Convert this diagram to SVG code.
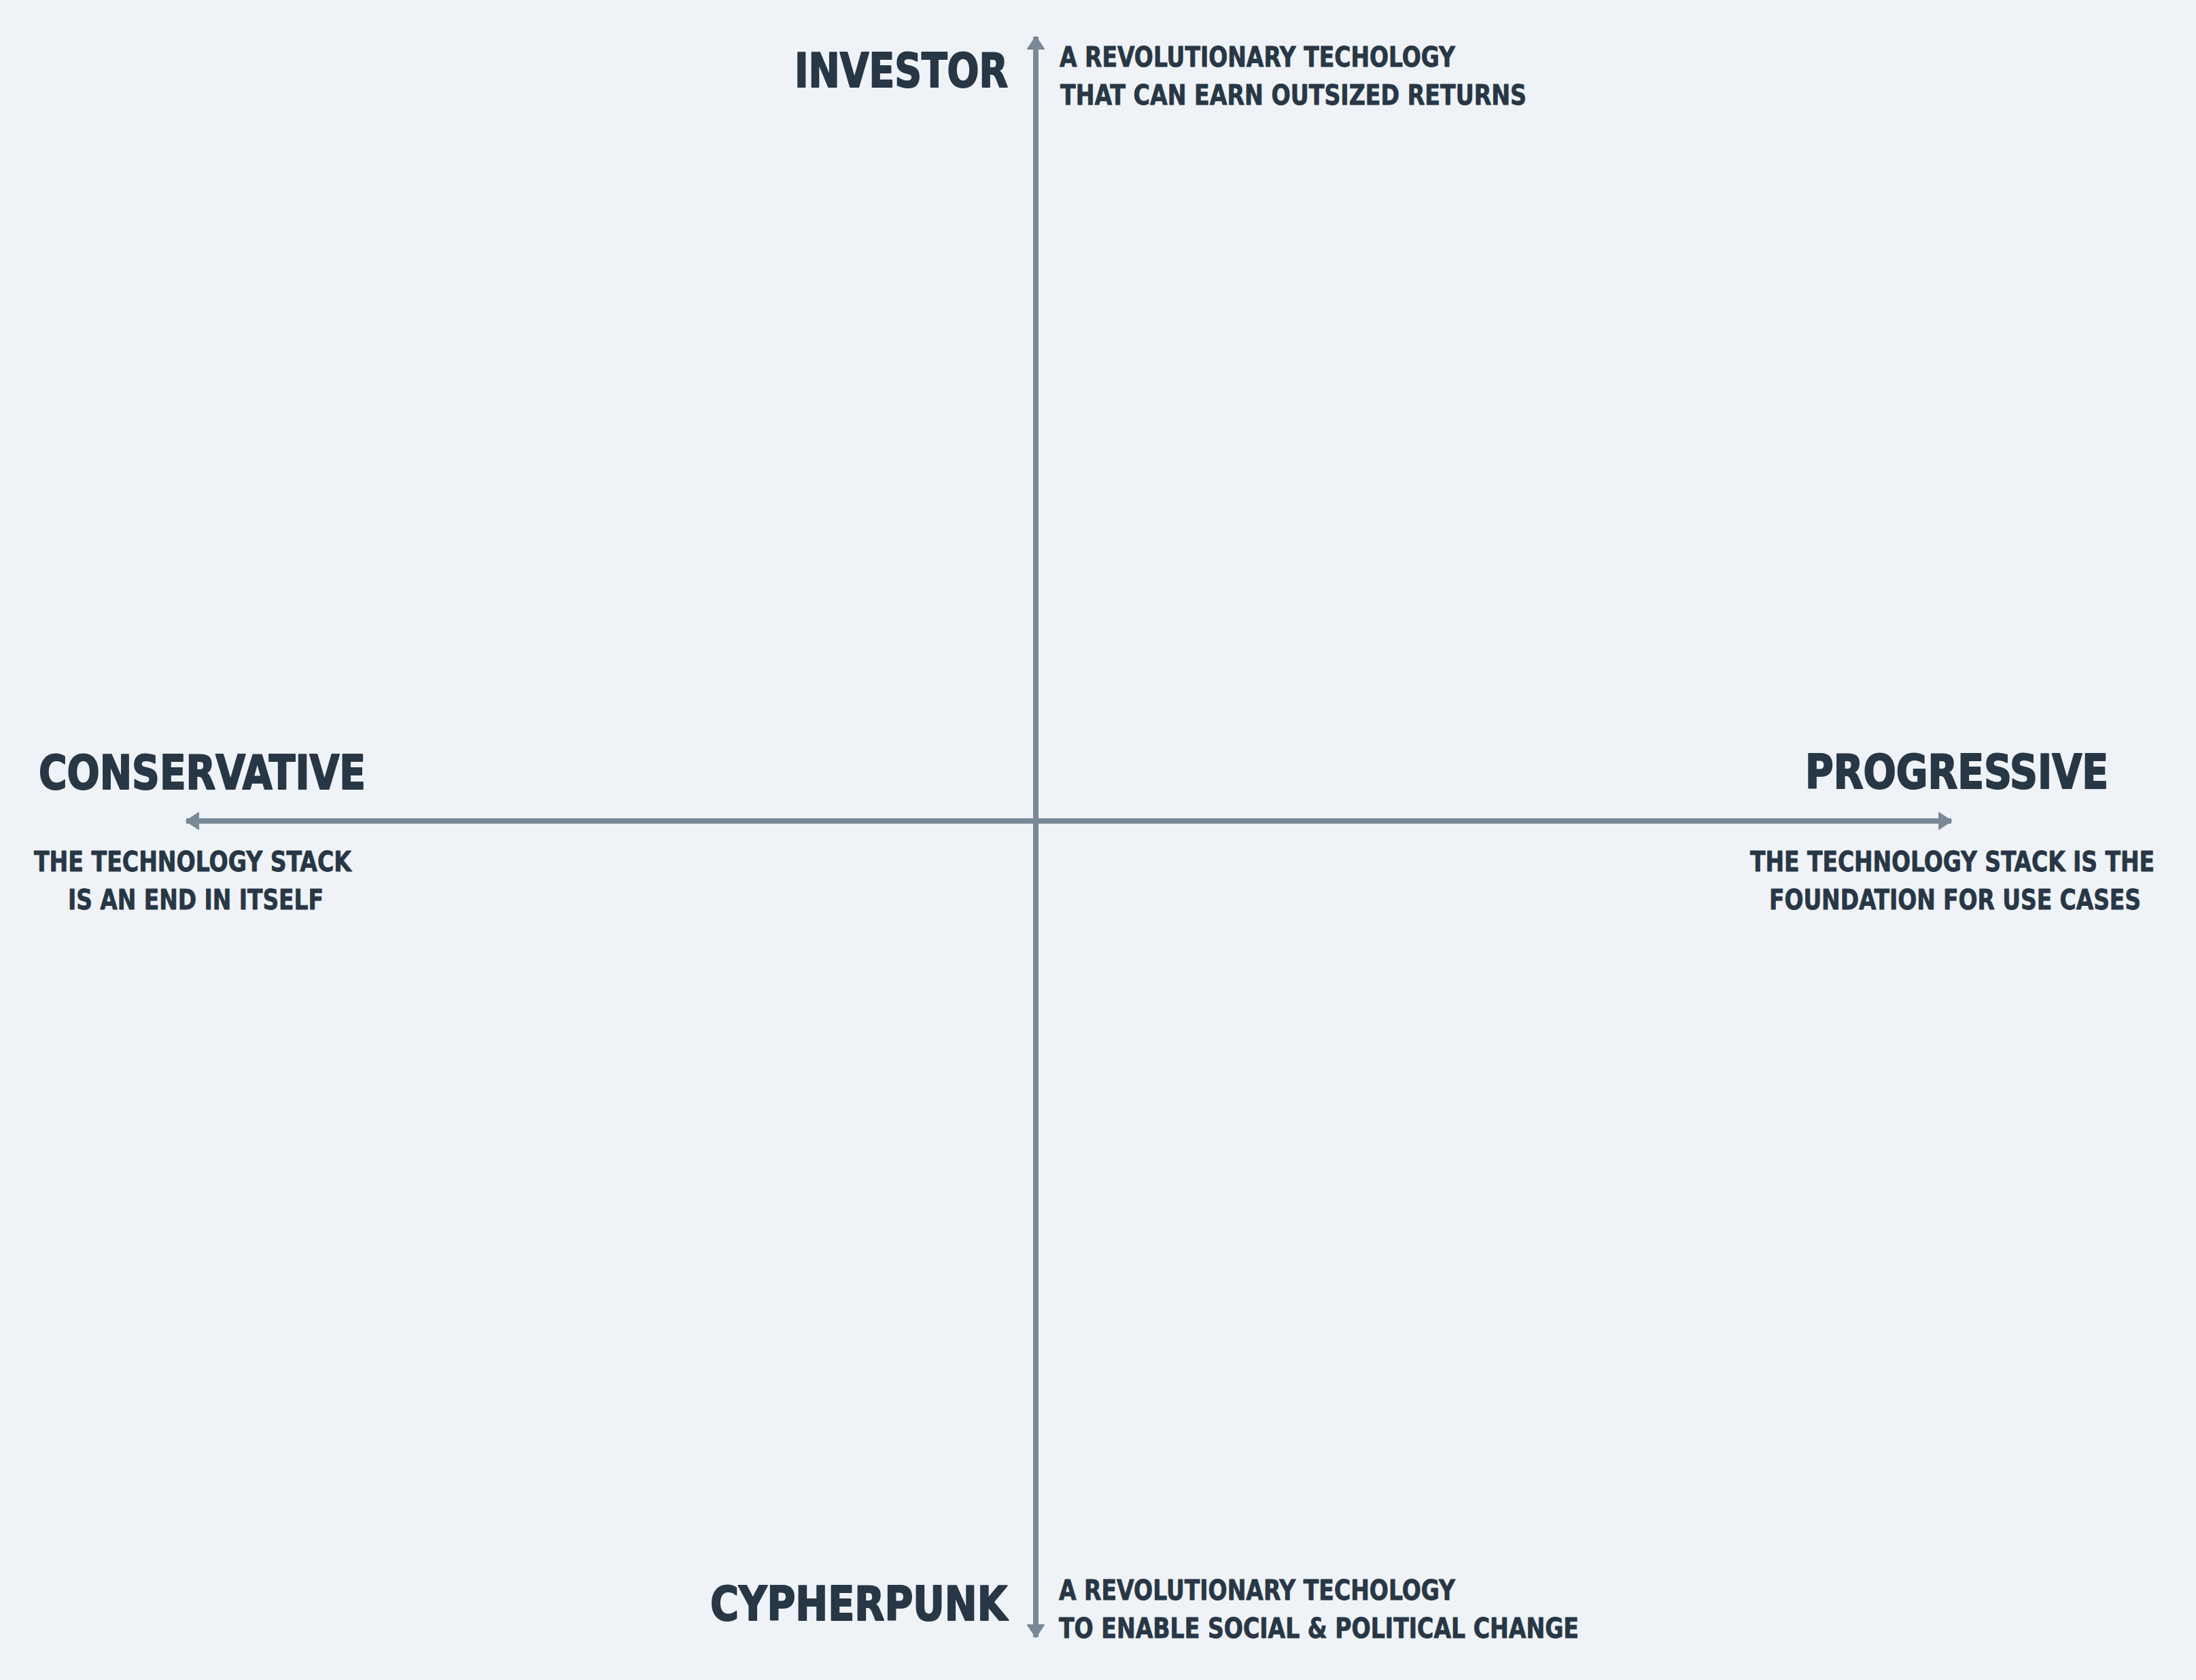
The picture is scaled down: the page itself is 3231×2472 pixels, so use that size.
<svg xmlns="http://www.w3.org/2000/svg" width="3231" height="2472" viewBox="0 0 3231 2472">
<style>
.t{font-family:"Liberation Sans Narrow","DejaVu Sans Condensed","Liberation Sans",sans-serif;font-weight:bold;fill:#283745;stroke:#283745;stroke-linejoin:round}
.big{font-size:70px;stroke-width:2}
.sm{font-size:40px;stroke-width:0.8}
.ax{stroke:#7a8996;stroke-width:8;fill:none}
</style>
<defs>
<marker id="ah" viewBox="0 -15 22 30" markerWidth="22" markerHeight="30" markerUnits="userSpaceOnUse" refX="19" refY="0" orient="auto-start-reverse">
<path d="M1,-12 L19,0 L1,12 Z" fill="#7a8996" stroke="#7a8996" stroke-width="2" stroke-linejoin="round"/>
</marker>
</defs>
<rect width="3231" height="2472" fill="#eff3f7"/>
<g id="connectors">
<line class="ax" x1="1524" y1="54" x2="1524" y2="2409" marker-start="url(#ah)" marker-end="url(#ah)"/>
<line class="ax" x1="274" y1="1208" x2="2871" y2="1208" marker-start="url(#ah)" marker-end="url(#ah)"/>
</g>
<g id="investor">
<text class="t big" x="1169" y="128" textLength="314" lengthAdjust="spacingAndGlyphs">INVESTOR</text>
<text class="t sm" x="1559" y="98" textLength="582" lengthAdjust="spacingAndGlyphs">A REVOLUTIONARY TECHOLOGY</text>
<text class="t sm" x="1560" y="154" textLength="686" lengthAdjust="spacingAndGlyphs">THAT CAN EARN OUTSIZED RETURNS</text>
</g>
<g id="conservative">
<text class="t big" x="57" y="1161" textLength="481" lengthAdjust="spacingAndGlyphs">CONSERVATIVE</text>
<text class="t sm" x="50" y="1282" textLength="467" lengthAdjust="spacingAndGlyphs">THE TECHNOLOGY STACK</text>
<text class="t sm" x="100" y="1338" textLength="376" lengthAdjust="spacingAndGlyphs">IS AN END IN ITSELF</text>
</g>
<g id="progressive">
<text class="t big" x="2656" y="1160" textLength="446" lengthAdjust="spacingAndGlyphs">PROGRESSIVE</text>
<text class="t sm" x="2575" y="1282" textLength="595" lengthAdjust="spacingAndGlyphs">THE TECHNOLOGY STACK IS THE</text>
<text class="t sm" x="2603" y="1338" textLength="547" lengthAdjust="spacingAndGlyphs">FOUNDATION FOR USE CASES</text>
</g>
<g id="cypherpunk">
<text class="t big" x="1045" y="2384" textLength="437" lengthAdjust="spacingAndGlyphs">CYPHERPUNK</text>
<text class="t sm" x="1558" y="2354" textLength="583" lengthAdjust="spacingAndGlyphs">A REVOLUTIONARY TECHOLOGY</text>
<text class="t sm" x="1558" y="2410" textLength="765" lengthAdjust="spacingAndGlyphs">TO ENABLE SOCIAL &amp; POLITICAL CHANGE</text>
</g>
</svg>
